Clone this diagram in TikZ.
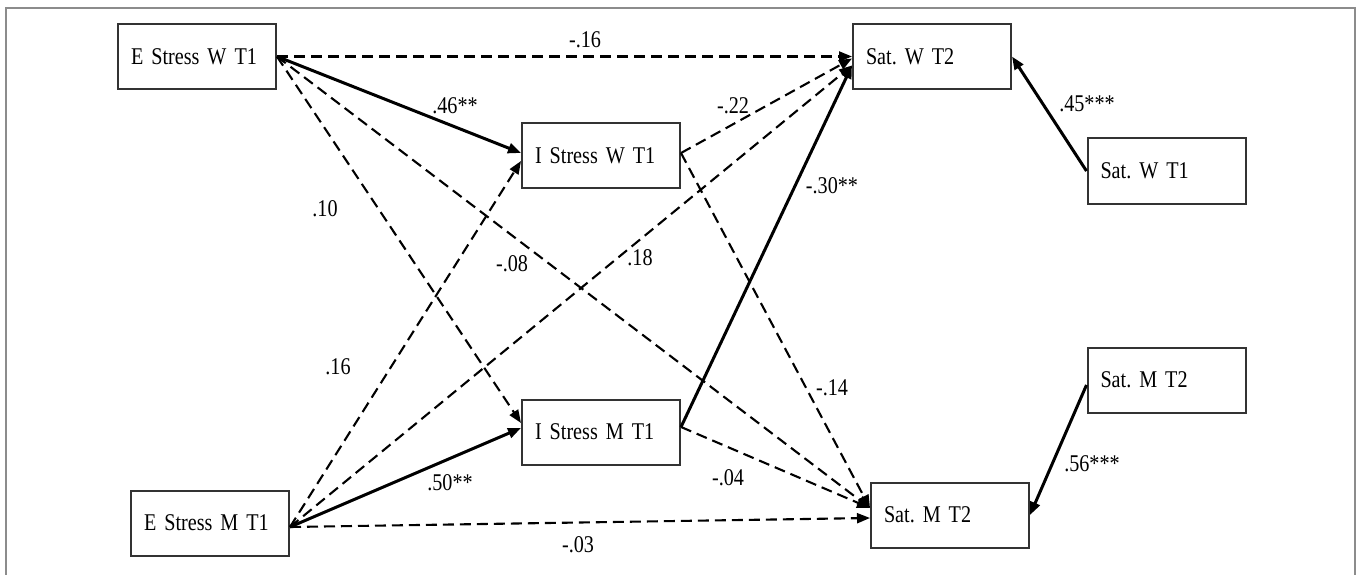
\documentclass[tikz,border=0pt]{standalone}
\usepackage{fontspec}
\setmainfont[FakeStretch=0.84]{Liberation Serif}
\usetikzlibrary{arrows.meta}
\frenchspacing

\begin{document}
\begin{tikzpicture}[x=1pt,y=-1pt,>={Triangle[length=13pt,width=10pt]},
  every node/.style={font=\fontsize{24}{28}\selectfont}]

    % `var' is used for all the boxes.
    % `direct' is a significant path, `weak' a non-significant one.
    % `coef' holds the path coefficients.
    \tikzstyle{var} = [draw=black!80,line width=2pt,rectangle,minimum height=65pt,
      text width=132pt,inner xsep=13pt,align=left]
    \tikzstyle{direct} = [->,line width=3pt]
    \tikzstyle{weak} = [->,line width=2.1pt,dash pattern=on 11pt off 6pt]
    \tikzstyle{coef} = [inner sep=0pt]
    %
    \useasboundingbox (0,0) rectangle (1358,575);
    \draw[black!45,line width=1.5pt] (6,575) -- (6,8) -- (1355,8) -- (1355,575);

    % Time 1 stress.
    \node[var] (EW) at (197,56.5) {E Stress W T1};
    \node[var] (EM) at (210,523) {E Stress M T1};
    \node[var] (ISW) at (601,156) {I Stress W T1};
    \node[var] (ISM) at (601,432) {I Stress M T1};

    % Satisfaction.
    \node[var] (SW2) at (932,56.5) {Sat. W T2};
    \node[var] (SM2) at (950,515) {Sat. M T2};
    \node[var] (SW1) at (1166.5,171) {Sat. W T1};
    \node[var] (SMT) at (1166.5,380) {Sat. M T2};

    % Paths.
    \draw[weak] (EW.east) -- (SW2.west);
    \draw[direct] (EW.east) -- ([yshift=3pt]ISW.west);
    \draw[weak] (EW.east) -- ([yshift=9pt]ISM.west);
    \draw[weak] (EW.east) -- ([yshift=7pt]SM2.west);
    \draw[weak] ([yshift=-4pt]EM.east) -- ([yshift=-5pt]ISW.west);
    \draw[weak] ([yshift=-4pt]EM.east) -- ([yshift=-9pt]SW2.west);
    \draw[direct] ([yshift=-4pt]EM.east) -- ([yshift=4pt]ISM.west);
    \draw[weak] ([yshift=-4pt]EM.east) -- ([yshift=-3pt]SM2.west);
    \draw[weak] ([yshift=3pt]ISW.east) -- ([yshift=-2pt]SW2.west);
    \draw[weak] ([yshift=3pt]ISW.east) -- ([yshift=7pt]SM2.west);
    \draw[direct] ([yshift=5pt]ISM.east) -- ([yshift=-9pt]SW2.west);
    \draw[weak] ([yshift=5pt]ISM.east) -- ([yshift=7pt]SM2.west);
    \draw[direct] (SW1.west) -- (SW2.east);
    \draw[direct] ([yshift=-5pt]SMT.west) -- (SM2.east);

    % Coefficients.
    \node[coef] (c16) at (585,40) {-.16};
    \node[coef] (c46) at (455,106) {.46**};
    \node[coef] (c10) at (325,209) {.10};
    \node[coef] (c08) at (512,264) {-.08};
    \node[coef] (c18) at (640,258) {.18};
    \node[coef] (c22) at (733,106) {-.22};
    \node[coef] (c30) at (832,186) {-.30**};
    \node[coef] (c45) at (1087,104) {.45***};
    \node[coef] (c16m) at (338,367) {.16};
    \node[coef] (c14) at (832,388) {-.14};
    \node[coef] (c50) at (450,483) {.50**};
    \node[coef] (c04) at (728,478) {-.04};
    \node[coef] (c03) at (578,545) {-.03};
    \node[coef] (c56) at (1092,464) {.56***};
    %
\end{tikzpicture}
\end{document}
